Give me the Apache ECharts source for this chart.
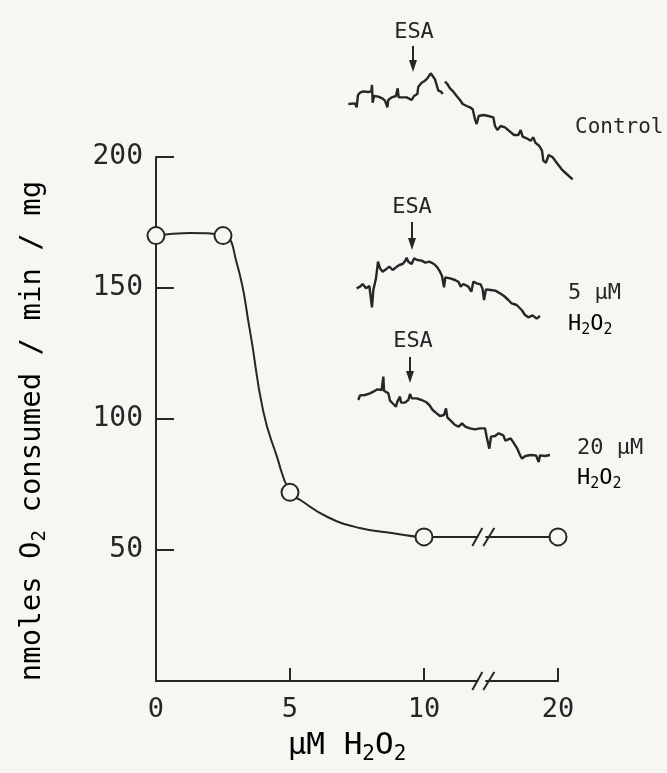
<!DOCTYPE html>
<html><head><meta charset="utf-8">
<script src="https://cdn.jsdelivr.net/npm/echarts@6/dist/echarts.min.js"></script>
<style>html,body{margin:0;padding:0;background:#f6f6f3}#c{width:667px;height:773px}</style>
</head><body><div id="c"></div>
<script>
// ---- data ----
const xTickValues = [0, 5, 10, 20];               // µM H2O2 (axis broken between 10 and 20)
const yTickValues = [50, 100, 150, 200];
const concH2O2 = [0, 2.5, 5, 10, 20];             // measured points
const o2Rate   = [170, 170, 72, 55, 55];          // nmoles O2 consumed/min/mg
const curveX = [0, 1.25, 2.5, 3.0, 3.5, 4.0, 4.5, 5, 5.4, 6.4, 7.6, 8.8, 10, 20];
const curveY = [170, 171, 170, 160, 134, 103, 86, 72, 69, 62.6, 58.4, 56.5, 55, 55];
const breakAt = 14.5;                             // position of the // break marks (µM)

// oxygen-electrode recorder traces (time, pen deflection in chart divisions)
const traceControl = [[55,252],[75,250],[80,262],[84,225],[90,218],[100,214],[115,216],[124,214],[126,195],[128,248],[132,228],[145,230],[158,236],[165,242],[172,262],[175,240],[185,232],[198,228],[203,205],[206,232],[215,232],[230,232],[245,240],[252,228],[262,222],[265,200],[275,188],[285,182],[292,175],[302,160],[308,168],[315,178],[320,195],[325,212],[333,215],[338,222],[340,null],[345,185],[352,192],[360,205],[370,215],[380,228],[390,240],[398,252],[410,258],[420,262],[428,268],[435,298],[440,312],[446,288],[460,285],[475,288],[490,292],[495,318],[502,330],[512,318],[525,322],[540,335],[552,345],[565,345],[572,330],[578,350],[590,355],[602,362],[610,352],[616,368],[628,378],[636,392],[640,422],[648,428],[656,405],[668,412],[680,428],[695,448],[710,462],[728,478]];
const trace5uM = [[50,295],[60,290],[68,282],[78,295],[88,288],[92,290],[96,352],[100,300],[108,265],[114,215],[120,235],[128,245],[138,238],[148,230],[158,240],[168,232],[178,225],[188,222],[196,212],[200,203],[205,215],[215,222],[222,205],[232,210],[245,212],[256,218],[268,215],[282,222],[292,232],[300,245],[306,258],[312,292],[316,262],[330,265],[345,270],[356,276],[362,290],[370,282],[385,290],[394,305],[400,275],[410,280],[422,283],[428,298],[432,330],[438,298],[452,300],[466,302],[480,310],[492,318],[505,330],[515,340],[530,345],[545,360],[555,375],[565,382],[578,376],[590,386],[600,378]];
const trace20uM = [[55,210],[60,196],[75,195],[90,190],[100,185],[112,178],[125,180],[130,140],[132,182],[145,190],[150,212],[160,222],[168,230],[172,215],[180,200],[183,218],[195,218],[205,210],[210,192],[215,205],[230,205],[245,210],[258,216],[268,225],[278,240],[290,250],[300,258],[312,255],[318,235],[322,262],[335,275],[345,285],[356,290],[366,280],[376,290],[390,295],[405,298],[420,295],[435,295],[440,320],[448,356],[453,320],[465,318],[476,310],[490,316],[496,332],[502,336],[512,325],[522,340],[532,356],[540,375],[546,386],[556,378],[572,375],[588,376],[596,396],[600,376],[615,378],[630,375]];

// ---- rendering ----
const BG = '#f6f6f3', INK = '#262626', FONT = '"DejaVu Sans Mono", "Liberation Mono", monospace';
const brk = x => x <= 10 ? x : 10 + (x - 10) * 0.5;   // broken axis: 10→20 drawn at half scale
const tickLabel = {};
xTickValues.forEach(v => { tickLabel[brk(v)] = String(v); });

const chart = echarts.init(document.getElementById('c'), null, {renderer: 'canvas'});
const richBig = {
  a: {fontSize: 29, fontFamily: FONT, color: INK},
  s: {fontSize: 19, fontFamily: FONT, color: INK, padding: [16, 0, 0, 0]}
};
const richX = {
  a: {fontSize: 31, fontFamily: FONT, color: INK},
  s: {fontSize: 21, fontFamily: FONT, color: INK, padding: [17, 0, 0, 0]}
};
const richSmall = {
  a: {fontSize: 22, fontFamily: FONT, color: INK},
  s: {fontSize: 15, fontFamily: FONT, color: INK, padding: [13, 0, 0, 0]}
};
function txt(x, y, text, size, align) {
  return {type: 'text', x, y, style: {text, fontSize: size, fontFamily: FONT, fill: INK, align: align || 'left', verticalAlign: 'middle'}};
}
function rtxt(x, y, text, r, align, rotation) {
  return {type: 'text', x, y, rotation: rotation || 0, style: {text, rich: r, align: align || 'left', verticalAlign: 'middle'}};
}
function arrow(x, y1, y2) {
  return {type: 'group', children: [
    {type: 'line', shape: {x1: x, y1: y1, x2: x, y2: y2 - 6}, style: {stroke: INK, lineWidth: 2}},
    {type: 'polygon', shape: {points: [[x - 4, y2 - 12], [x + 4, y2 - 12], [x, y2]]}, style: {fill: INK}}
  ]};
}
const insetAxis = (max, inverse) => ({type: 'value', show: false, min: 0, max, inverse: !!inverse});
const traceSeries = (data, idx) => ({
  type: 'line', xAxisIndex: idx, yAxisIndex: idx, data, showSymbol: false, connectNulls: false,
  lineStyle: {color: INK, width: 2.4}, clip: false, silent: true
});

chart.setOption({
  backgroundColor: BG,
  animation: false,
  grid: [
    {left: 156, top: 157, width: 402, height: 524},
    {left: 330, top: 20, width: 337, height: 170},
    {left: 340, top: 190, width: 320, height: 140},
    {left: 340, top: 330, width: 320, height: 160}
  ],
  xAxis: [
    {type: 'value', gridIndex: 0, min: 0, max: brk(20), interval: 5,
     axisLine: {lineStyle: {color: INK, width: 2}},
     axisTick: {inside: true, length: 13, lineStyle: {color: INK, width: 2}},
     axisLabel: {margin: 15, fontSize: 27, fontFamily: FONT, color: INK,
                 formatter: v => tickLabel[v] !== undefined ? tickLabel[v] : ''},
     splitLine: {show: false}},
    Object.assign({gridIndex: 1}, insetAxis(1011)),
    Object.assign({gridIndex: 2}, insetAxis(960)),
    Object.assign({gridIndex: 3}, insetAxis(960))
  ],
  yAxis: [
    {type: 'value', gridIndex: 0, min: 0, max: 200, interval: 50,
     axisLine: {show: true, lineStyle: {color: INK, width: 2}},
     axisTick: {show: true, inside: true, length: 18, lineStyle: {color: INK, width: 2}},
     axisLabel: {margin: 13, fontSize: 28, fontFamily: FONT, color: INK,
                 formatter: v => yTickValues.indexOf(v) >= 0 ? String(v) : ''},
     splitLine: {show: false}},
    Object.assign({gridIndex: 1}, insetAxis(510, true)),
    Object.assign({gridIndex: 2}, insetAxis(420, true)),
    Object.assign({gridIndex: 3}, insetAxis(480, true))
  ],
  series: [
    {type: 'line', xAxisIndex: 0, yAxisIndex: 0, smooth: 0.5, showSymbol: false,
     data: curveX.map((x, i) => [brk(x), curveY[i]]), lineStyle: {color: INK, width: 2}, clip: false, z: 2},
    {type: 'custom', xAxisIndex: 0, yAxisIndex: 0, z: 3, clip: false,
     data: [[brk(breakAt), 0], [brk(breakAt), o2Rate[o2Rate.length - 1]]],
     renderItem: (params, api) => {
       const p = api.coord([api.value(0), api.value(1)]);
       const ls = {stroke: INK, lineWidth: 2};
       return {type: 'group', children: [
         {type: 'rect', shape: {x: p[0] - 6, y: p[1] - 4, width: 7, height: 8}, style: {fill: BG}},
         {type: 'line', shape: {x1: p[0] - 12, y1: p[1] + 9, x2: p[0] - 2, y2: p[1] - 9}, style: ls},
         {type: 'line', shape: {x1: p[0] - 1, y1: p[1] + 9, x2: p[0] + 10, y2: p[1] - 9}, style: ls}
       ]};
     }},
    {type: 'scatter', xAxisIndex: 0, yAxisIndex: 0, symbol: 'circle', symbolSize: 17, clip: false, z: 4,
     data: concH2O2.map((x, i) => [brk(x), o2Rate[i]]),
     itemStyle: {color: BG, borderColor: INK, borderWidth: 2, opacity: 1}},
    traceSeries(traceControl, 1),
    traceSeries(trace5uM, 2),
    traceSeries(trace20uM, 3)
  ],
  graphic: [
    rtxt(32, 431, '{a|nmoles O}{s|2}{a| consumed / min / mg}', richBig, 'center', Math.PI / 2),
    rtxt(347, 746, '{a|µM H}{s|2}{a|O}{s|2}', richX, 'center'),
    txt(414, 32, 'ESA', 22, 'center'),
    arrow(413, 46, 72),
    txt(575, 128, 'Control', 21),
    txt(412, 207, 'ESA', 22, 'center'),
    arrow(412, 222, 250),
    txt(568, 293, '5 µM', 22),
    rtxt(568, 324, '{a|H}{s|2}{a|O}{s|2}', richSmall),
    txt(577, 448, '20 µM', 22),
    txt(413, 341, 'ESA', 22, 'center'),
    arrow(410, 357, 383),
    rtxt(577, 478, '{a|H}{s|2}{a|O}{s|2}', richSmall)
  ]
});
</script></body></html>
